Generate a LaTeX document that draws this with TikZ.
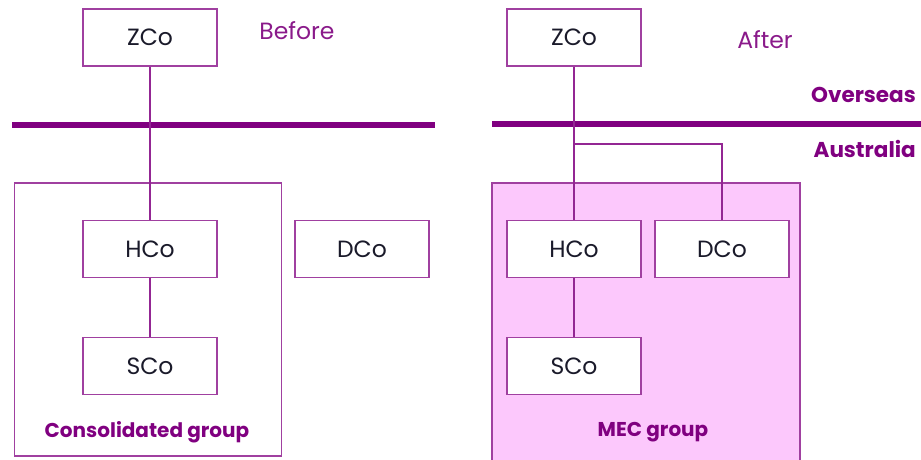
\documentclass[tikz,border=0pt]{standalone}
\usepackage{fontspec}
\setmainfont{Poppins}
\definecolor{barpurple}{HTML}{800080}
\definecolor{linepurple}{HTML}{A040A0}
\definecolor{labpurple}{HTML}{8A1A8A}
\definecolor{mecfill}{HTML}{FCC8FC}
\definecolor{boxtext}{HTML}{1A1A2A}
\tikzset{
  co/.style={draw=linepurple, line width=1.3pt, fill=white, minimum width=134pt, minimum height=57pt, inner sep=0pt, text=boxtext, font=\fontsize{23.5}{26}\selectfont},
  conn/.style={draw=barpurple!85!white, line width=1.3pt},
  bar/.style={draw=barpurple, line width=6pt},
  boldlab/.style={text=barpurple, font=\fontsize{20}{23}\selectfont\bfseries, inner sep=0pt},
  sidelab/.style={text=barpurple, font=\fontsize{21.5}{24}\selectfont\bfseries, inner sep=0pt},
  phase/.style={text=labpurple, font=\fontsize{23.5}{26}\selectfont, inner sep=0pt},
}
\begin{document}
\begin{tikzpicture}[x=1pt,y=-1pt]
\useasboundingbox (0,0) rectangle (921,459);
% ---------- Before ----------
\node[draw=linepurple, line width=1.3pt, minimum width=267pt, minimum height=273pt, inner sep=0pt] (cg) at (148,319.5) {};
\node[co] (zl) at (150,37.5) {ZCo};
\node[phase] (before) at (297,31) {Before};
\draw[bar] (12,125) coordinate (bl1) -- (435,125) coordinate (bl2);
\node[co] (hl) at (150,249) {HCo};
\node[co] (sl) at (150,366) {SCo};
\node[co] (dl) at (362,249) {DCo};
\node[boldlab] (cgl) at (147,432) {Consolidated group};
\draw[conn] (zl.south) -- (hl.north);
\draw[conn] (hl.south) -- (sl.north);
% ---------- After ----------
\fill[mecfill] (492,183) rectangle (800,460);
\draw[linepurple, line width=1.3pt] (492,462) -- (492,183) -- (800,183) -- (800,462);
\node[co] (zr) at (574,37.5) {ZCo};
\node[phase] (after) at (765,40) {After};
\draw[bar] (492,124) coordinate (br1) -- (921,124) coordinate (br2);
\node[sidelab, anchor=east] (ovs) at (916,95) {Overseas};
\node[sidelab, anchor=east] (aus) at (916,149) {Australia};
\node[co] (hr) at (574,249) {HCo};
\node[co] (dr) at (722,249) {DCo};
\node[co] (sr) at (574,366) {SCo};
\node[boldlab] (mecl) at (653,432) {MEC group};
\draw[conn] (zr.south) -- (hr.north);
\coordinate (br) at (574,144);
\draw[conn] (br) -| (dr.north);
\draw[conn] (hr.south) -- (sr.north);
\end{tikzpicture}
\end{document}
